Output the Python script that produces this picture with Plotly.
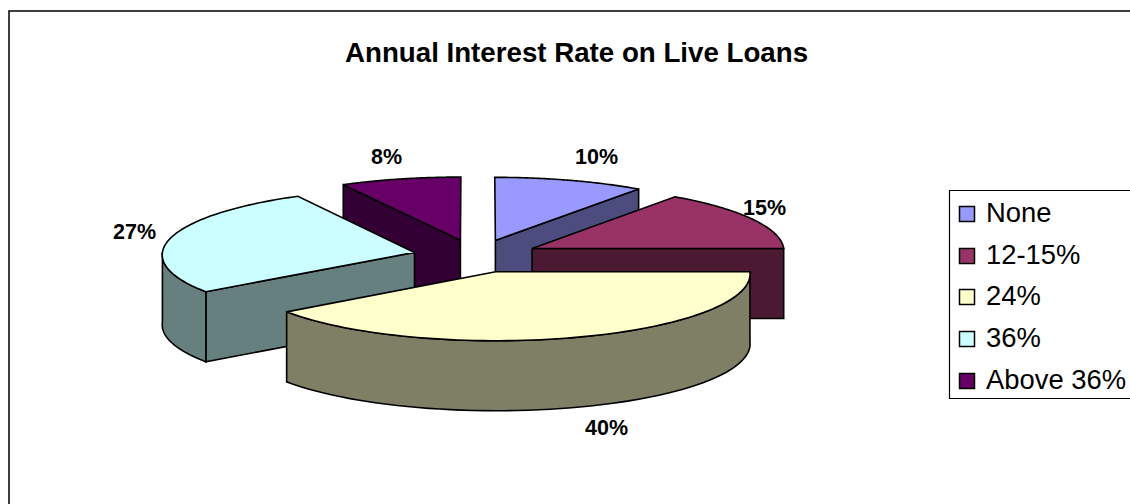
import numpy as np
import plotly.graph_objects as go

# Loan share by annual interest rate
categories = ["None", "12-15%", "24%", "36%", "Above 36%"]
shares = [10, 15, 40, 27, 8]
top_colors = ["#9999FF", "#993366", "#FFFFCC", "#CCFFFF", "#660066"]
side_colors = ["#4C4C7F", "#4C1933", "#7F7F66", "#667F7F", "#330033"]

WIDTH, HEIGHT = 1130, 504

# Projection of the tilted, exploded pie onto the pixel-scaled axes
CX, CY = 476.0, 256.0
RX, RY = 252.5, 66.0
EXPLODE = 0.25
PERSPECTIVE = 0.03
DEPTH = 70.0


def project(theta, radius, mid):
    """Map a pie-plane point (clockwise angle from north) to axis coordinates."""
    px = EXPLODE * np.sin(mid) + radius * np.sin(theta)
    py = EXPLODE * np.cos(mid) + radius * np.cos(theta)
    scale = 1 - PERSPECTIVE * py
    return CX + RX * px * scale, CY - RY * py * scale


def polygon(xs, ys, fill):
    return go.Scatter(
        x=list(xs) + [xs[0]], y=list(ys) + [ys[0]],
        mode="lines", fill="toself", fillcolor=fill,
        line=dict(color="black", width=1.6, simplify=False),
        hoverinfo="skip", showlegend=False,
    )


fractions = np.array(shares) / sum(shares)
ends = np.cumsum(fractions) * 2 * np.pi
starts = ends - fractions * 2 * np.pi

traces = []
# Painter's order: the two rear wedges, then the sides, then the front wedge
for i in [4, 0, 1, 3, 2]:
    t0, t1, mid = starts[i], ends[i], (starts[i] + ends[i]) / 2
    ax, ay = project(0.0, 0.0, mid)

    # Cut faces that turn toward the viewer
    for t, visible in ((t0, np.sin(t0) < -1e-9), (t1, np.sin(t1) > 1e-9)):
        if visible:
            ex, ey = project(t, 1.0, mid)
            traces.append(polygon([ax, ex, ex, ax], [ay, ey, ey + DEPTH, ay + DEPTH], side_colors[i]))

    # Front-facing part of the outer rim
    lo, hi = max(t0, np.pi / 2), min(t1, 3 * np.pi / 2)
    if hi > lo:
        th = np.linspace(lo, hi, 60)
        rx, ry = project(th, 1.0, mid)
        traces.append(polygon(np.r_[rx, rx[::-1]], np.r_[ry, ry[::-1] + DEPTH], side_colors[i]))

    # Upper surface of the wedge
    th = np.linspace(t0, t1, 80)
    rx, ry = project(th, 1.0, mid)
    traces.append(polygon(np.r_[ax, rx], np.r_[ay, ry], top_colors[i]))

# Legend column
legend_x = [967] * len(categories)
legend_y = [214, 256, 297, 339, 381]
traces.append(go.Scatter(
    x=legend_x, y=legend_y, mode="markers", hoverinfo="skip", showlegend=False,
    marker=dict(symbol="square", size=15, color=top_colors, line=dict(color="black", width=1.5)),
))

label_x = [596, 764, 606, 134, 386]
label_y = [157, 208, 428, 232, 157]

fig = go.Figure(traces)
for x, y, value in zip(label_x, label_y, shares):
    fig.add_annotation(x=x, y=y, text=f"<b>{value}%</b>", showarrow=False,
                       font=dict(family="Liberation Sans", size=21.5, color="black"))
for y, name in zip(legend_y, categories):
    fig.add_annotation(x=984, y=y - 2, text=name, showarrow=False, xanchor="left",
                       font=dict(family="Liberation Sans", size=27.4, color="black"))
fig.add_annotation(x=576.5, y=52, text="<b>Annual Interest Rate on Live Loans</b>", showarrow=False,
                   font=dict(family="Liberation Sans", size=27.7, color="black"))

# Chart frame and legend box
fig.add_shape(type="rect", x0=9, y0=11, x1=WIDTH + 5, y1=HEIGHT + 5, line=dict(color="black", width=1.5), layer="below")
fig.add_shape(type="rect", x0=949.5, y0=190.5, x1=WIDTH + 5, y1=398.5,
              line=dict(color="black", width=1.2), fillcolor="white", layer="below")

fig.update_layout(
    width=WIDTH, height=HEIGHT, margin=dict(l=0, r=0, t=0, b=0),
    paper_bgcolor="white", plot_bgcolor="white", showlegend=False,
    xaxis=dict(range=[0, WIDTH], visible=False, fixedrange=True),
    yaxis=dict(range=[HEIGHT, 0], visible=False, fixedrange=True),
)
fig.write_html("out.html", config={"displayModeBar": False})
